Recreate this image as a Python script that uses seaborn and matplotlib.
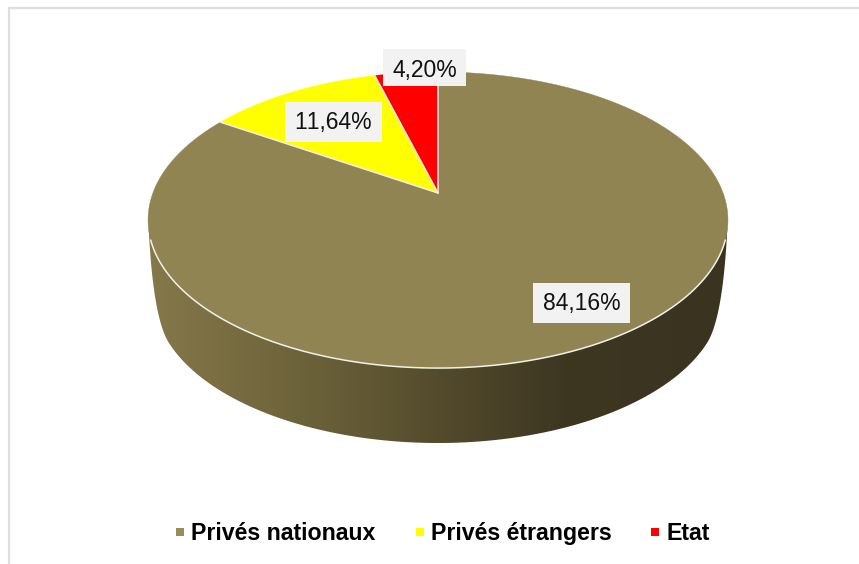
"""Repartition du capital : camembert 3D en perspective."""

import numpy as np
import matplotlib.pyplot as plt
from matplotlib.colors import LinearSegmentedColormap
from matplotlib.patches import Polygon, Rectangle
import seaborn as sns

# Data
categories = ["Privés nationaux", "Privés étrangers", "Etat"]
shares = [84.16, 11.64, 4.20]
share_labels = ["84,16%", "11,64%", "4,20%"]
slice_colors = ["#8f8452", "#ffff00", "#ff0000"]
legend_colors = ["#988c5a", "#ffff00", "#ff0000"]

# Side wall shading, left to right
wall_stops = [(0.0, "#85794a"), (0.28, "#6b6139"), (0.49, "#554c2d"), (0.72, "#3d3621"), (1.0, "#3a3320")]

# Layout, in reference pixels
W, H = 859, 564
CX, CY = 438, 193
RX, RY, TILT = 285.1, 143.1, 0.1826
BOTTOM_CY, BOTTOM_A, BOTTOM_B = 298, 283, 145
label_boxes = [(533, 283, 97, 40), (285, 102, 97, 40), (383, 49, 83, 37)]
label_text_y = [303.5, 122.5, 70]
legend_marker_x = [180, 419.5, 654.5]
legend_text_x = [191, 431, 667]
LEGEND_MARKER_Y, LEGEND_BASELINE = 531.5, 540

sns.set_theme(style="white")
plt.rcParams["font.family"] = ["Liberation Sans", "DejaVu Sans"]
plt.rcParams["text.kerning_factor"] = 20  # reference has no pair kerning ("11")


def project(theta, radius=1.0):
    """Disc position (clockwise from 12 o'clock) to picture position."""
    u = radius * np.sin(theta)
    v = radius * np.cos(theta)
    depth = 1 + TILT * v
    return CX + RX * u / depth, CY - RY * v / depth


fig = plt.figure(figsize=(W / 100, H / 100), dpi=100, facecolor="white")
ax = fig.add_axes([0, 0, 1, 1])
ax.set_xlim(0, W)
ax.set_ylim(H, 0)
ax.axis("off")

# Frame
ax.plot([9, 9], [H, 7.5], color="#dedede", lw=1.6)
ax.plot([9, W], [7.5, 7.5], color="#dedede", lw=1.6)

# Side wall: gradient clipped to the lower outline
lim = np.arcsin(45 / BOTTOM_B)
t = np.linspace(-np.pi / 2 + lim, np.pi / 2 - lim, 200)
rim_x, rim_y = project(np.linspace(0, 2 * np.pi, 400))
bottom_x = CX + BOTTOM_A * np.sin(t)
bottom_y = BOTTOM_CY + BOTTOM_B * np.cos(t)

# Rounded shoulder from the rim down to the bottom ellipse
s = np.linspace(0, 1, 40)
half_x = (1 - s) ** 2 * (CX - 148.7) + 2 * s * (1 - s) * (CX - 153) + s ** 2 * (CX - bottom_x[0])
half_y = (1 - s) ** 2 * 228 + 2 * s * (1 - s) * 318 + s ** 2 * bottom_y[0]
wall_xy = np.column_stack([
    np.r_[CX - half_x, bottom_x, CX + half_x[::-1]],
    np.r_[half_y, bottom_y, half_y[::-1]],
])
wall_cmap = LinearSegmentedColormap.from_list("wall", wall_stops)
gradient = ax.imshow(
    np.linspace(0, 1, 256)[None, :],
    cmap=wall_cmap,
    extent=(rim_x.min(), rim_x.max(), 450, 200),
    aspect="auto",
    zorder=1,
)
wall_clip = Polygon(wall_xy, closed=True, transform=ax.transData, fc="none", ec="none")
ax.add_patch(wall_clip)
gradient.set_clip_path(wall_clip)
ax.set_xlim(0, W)
ax.set_ylim(H, 0)

# Top slices, clockwise from 12 o'clock
edges = np.cumsum([0] + shares) / sum(shares) * 2 * np.pi
for start, stop, color in zip(edges[:-1], edges[1:], slice_colors):
    arc = np.linspace(start, stop, 300)
    x, y = project(arc)
    ax.fill(np.r_[CX, x, CX], np.r_[CY, y, CY], color=color, lw=0.3, zorder=2)

# White seams between slices and along the front rim
for edge in edges[:-1]:
    x, y = project(edge)
    ax.plot([CX, x], [CY, y], color="#f4eeee", lw=1.1, zorder=3)
front = np.linspace(np.pi / 2 + 0.315, 3 * np.pi / 2 - 0.315, 300)
ax.plot(*project(front), color="#f2f0ea", lw=1.1, zorder=3)

# Value labels
for (bx, by, bw, bh), ty, text in zip(label_boxes, label_text_y, share_labels):
    ax.add_patch(Rectangle((bx, by), bw, bh, fc="#f2f2f2", ec="none", zorder=4))
    ax.text(bx + bw / 2, ty, text, ha="center", va="center",
            fontsize=16.5, color="#111111", zorder=5)

# Legend entries share one baseline
for mx, tx, color, name in zip(legend_marker_x, legend_text_x, legend_colors, categories):
    ax.plot([mx], [LEGEND_MARKER_Y], ls="none", marker="s", ms=6.2, color=color, mew=0)
    ax.text(tx, LEGEND_BASELINE, name, ha="left", va="baseline",
            fontsize=16.7, fontweight="bold", color="black")

fig.savefig("out.png", dpi=100)
